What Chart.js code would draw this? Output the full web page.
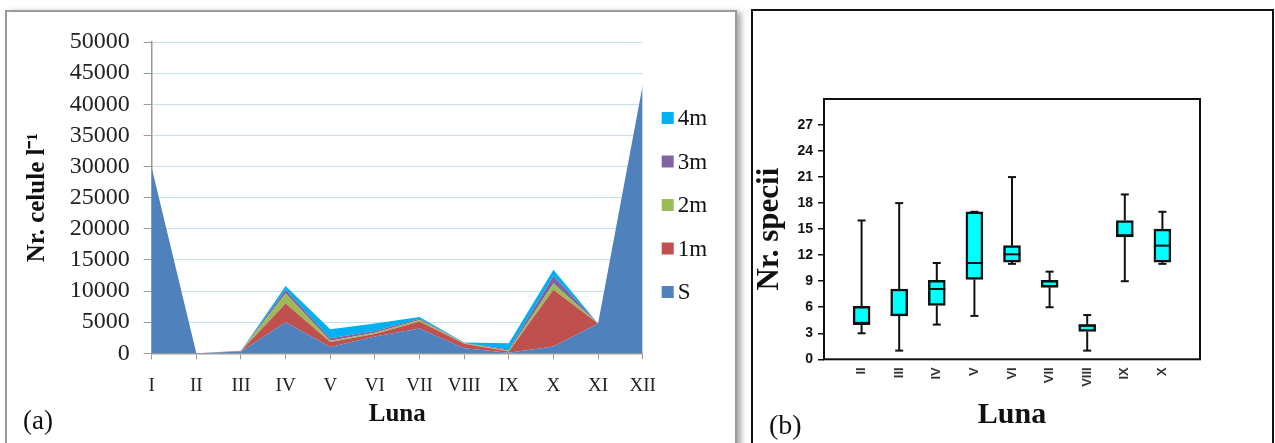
<!DOCTYPE html>
<html>
<head>
<meta charset="utf-8">
<script src="https://cdn.jsdelivr.net/npm/chart.js@4.4.1/dist/chart.umd.min.js"></script>
<style>
  body { margin: 0; background: #fff; width: 1275px; height: 443px; overflow: hidden; position: relative; }
  .panel { position: absolute; box-sizing: border-box; }
  #frameA { left: 5px; top: 10px; width: 732px; height: 450px; border: 2px solid #9a9a9a; box-shadow: 4px 2px 6px rgba(0,0,0,0.35); }
  #frameB { left: 751px; top: 9px; width: 523px; height: 450px; border: 2px solid #111; }
  .wrap { position: absolute; top: 0; height: 443px; }
  #wrapA { left: 0; width: 740px; }
  #wrapB { left: 753px; width: 522px; }
  .tag { position: absolute; font-family: 'Liberation Serif', serif; color: #111; }
</style>
</head>
<body>
<div class="panel" id="frameA"></div>
<div class="panel" id="frameB"></div>
<div class="wrap" id="wrapA"><canvas id="chartA"></canvas></div>
<div class="wrap" id="wrapB"><canvas id="chartB"></canvas></div>
<div class="tag" style="left:23px; top:407px; font-size:27px; line-height:27px;">(a)</div>
<div class="tag" style="left:769px; top:411px; font-size:28px; line-height:28px;">(b)</div>
<script>
// (a) stacked area: cells per litre by month and depth
const months = ['I', 'II', 'III', 'IV', 'V', 'VI', 'VII', 'VIII', 'IX', 'X', 'XI', 'XII']
const depthS = [29800, 0, 300, 5000, 1000, 2700, 4000, 800, 100, 1100, 4800, 43100]
const depth1m = [0, 0, 50, 3000, 800, 400, 1100, 750, 200, 9100, 0, 0]
const depth2m = [0, 0, 30, 1600, 200, 200, 250, 50, 100, 1000, 0, 0]
const depth3m = [0, 0, 20, 600, 400, 300, 200, 50, 200, 1200, 0, 0]
const depth4m = [0, 0, 20, 600, 1450, 1200, 300, 100, 1000, 1000, 0, 0]

// (b) box plot: number of species by month
const boxMonths = ['', 'II', 'III', 'IV', 'V', 'VI', 'VII', 'VIII', 'IX', 'X', '']
const boxMin = [null, 3, 1, 4, 5, 11, 6, 1, 9, 11, null]
const boxQ1 = [null, 4, 5, 6.2, 9.2, 11.2, 8.3, 3.2, 14.1, 11.2, null]
const boxMedian = [null, 4.2, 5.1, 8.1, 11.1, 12.1, 8.4, 3.9, 14.3, 13.1, null]
const boxQ3 = [null, 6.1, 8.1, 9.1, 17, 13.1, 9.1, 4.0, 16, 15, null]
const boxMax = [null, 16, 18, 11.1, 17, 21, 10.1, 5.1, 19, 17, null]

const serif = "'Liberation Serif', 'Times New Roman', serif"
const sans = "'Liberation Sans', Arial, sans-serif"

const areaSet = (label, data, color, fill) => ({
  label, data, fill, backgroundColor: color, borderColor: color,
  borderWidth: 0, pointRadius: 0, tension: 0
})

// legend drawn to the right of the plot, top item = last dataset
const sideLegend = {
  id: 'sideLegend',
  afterDraw (chart) {
    const { ctx, chartArea } = chart
    const sets = chart.data.datasets.slice().reverse()
    ctx.save()
    ctx.font = '23px ' + serif
    ctx.textBaseline = 'middle'
    sets.forEach((ds, i) => {
      const y = 118 + i * 43.5
      const x = chartArea.right + 19
      ctx.fillStyle = ds.backgroundColor
      ctx.fillRect(x, y - 6, 12, 12)
      ctx.fillStyle = '#111'
      ctx.fillText(ds.label, x + 16, y + 1)
    })
    ctx.restore()
  }
}

new Chart(document.getElementById('chartA'), {
  type: 'line',
  data: {
    labels: months,
    datasets: [
      areaSet('S', depthS, '#4f81bd', 'origin'),
      areaSet('1m', depth1m, '#c0504d', '-1'),
      areaSet('2m', depth2m, '#9bbb59', '-1'),
      areaSet('3m', depth3m, '#8064a2', '-1'),
      areaSet('4m', depth4m, '#00b0f0', '-1')
    ]
  },
  options: {
    responsive: true,
    maintainAspectRatio: false,
    animation: false,
    layout: { padding: { left: 0, top: 42, right: 97.3, bottom: 0 } },
    plugins: { legend: { display: false }, tooltip: { enabled: false } },
    scales: {
      x: {
        offset: false,
        afterFit: (s) => { s.height = 89.7 },
        grid: { drawOnChartArea: false, tickLength: 6, tickColor: '#999' },
        border: { color: '#999', width: 1.5 },
        ticks: { color: '#222', padding: 15, font: { family: serif, size: 19 }, maxRotation: 0, autoSkip: false },
        title: { display: true, text: 'Luna', color: '#111', font: { family: serif, size: 25, weight: 'bold', lineHeight: 1 }, padding: { top: 0, bottom: 15.5 } }
      },
      y: {
        stacked: true,
        min: 0,
        max: 50000,
        afterFit: (s) => { s.width = 151.7 },
        grid: { color: '#bfe2ec', tickColor: '#999', tickLength: 8 },
        border: { color: '#999', width: 1.5 },
        ticks: {
          stepSize: 5000,
          autoSkip: false,
          color: '#222',
          padding: 14,
          font: { family: serif, size: 24, lineHeight: 1 },
          callback: (v) => String(v)
        },
        title: { display: true, text: 'Nr. celule l⁻¹', color: '#111', font: { family: serif, size: 25, weight: 'bold', lineHeight: 1 }, padding: { top: 25.5, bottom: 0 } }
      }
    }
  },
  plugins: [sideLegend]
})

// whiskers, caps, median and plot frame for the box plot
const boxExtras = {
  id: 'boxExtras',
  afterDatasetsDraw (chart) {
    const { ctx, chartArea, scales: { x, y } } = chart
    ctx.save()
    ctx.strokeStyle = '#111'
    ctx.lineWidth = 2
    boxMin.forEach((lo, i) => {
      if (lo === null) return
      const px = x.getPixelForValue(i)
      const line = (x1, y1, x2, y2) => { ctx.beginPath(); ctx.moveTo(x1, y1); ctx.lineTo(x2, y2); ctx.stroke() }
      line(px, y.getPixelForValue(lo), px, y.getPixelForValue(boxQ1[i]))
      line(px, y.getPixelForValue(boxQ3[i]), px, y.getPixelForValue(boxMax[i]))
      line(px - 4, y.getPixelForValue(lo), px + 4, y.getPixelForValue(lo))
      line(px - 4, y.getPixelForValue(boxMax[i]), px + 4, y.getPixelForValue(boxMax[i]))
      line(px - 8.5, y.getPixelForValue(boxMedian[i]), px + 8.5, y.getPixelForValue(boxMedian[i]))
    })
    ctx.strokeRect(chartArea.left, chartArea.top, chartArea.right - chartArea.left, chartArea.bottom - chartArea.top)
    ctx.restore()
  }
}

new Chart(document.getElementById('chartB'), {
  type: 'bar',
  data: {
    labels: boxMonths,
    datasets: [{
      data: boxQ1.map((q, i) => (q === null ? null : [q, boxQ3[i]])),
      backgroundColor: '#00ffff',
      borderColor: '#111',
      borderWidth: 2.5,
      borderSkipped: false,
      barThickness: 17
    }]
  },
  options: {
    responsive: true,
    maintainAspectRatio: false,
    animation: false,
    layout: { padding: { left: 0, top: 99, right: 75, bottom: 0 } },
    plugins: { legend: { display: false }, tooltip: { enabled: false } },
    scales: {
      x: {
        offset: false,
        afterFit: (s) => { s.height = 83.7 },
        grid: { display: false },
        border: { display: false },
        ticks: { color: '#333', padding: 0, minRotation: 90, maxRotation: 90, autoSkip: false, font: { family: sans, size: 13, weight: 'bold' } },
        title: { display: true, text: 'Luna', color: '#111', font: { family: serif, size: 30, weight: 'bold', lineHeight: 1 }, padding: { top: 0, bottom: 13 } }
      },
      y: {
        min: 0,
        max: 30,
        afterFit: (s) => { s.width = 71 },
        afterBuildTicks: (s) => { s.ticks = s.ticks.filter(t => t.value !== 30) },
        grid: { drawOnChartArea: false, tickLength: 6, tickColor: '#111', lineWidth: 1.5 },
        border: { display: false },
        ticks: { stepSize: 3, autoSkip: false, color: '#111', padding: 5, font: { family: sans, size: 14, weight: 'bold' } },
        title: { display: true, text: 'Nr. specii', color: '#111', font: { family: serif, size: 31, weight: 'bold', lineHeight: 1 }, padding: { top: 1.5, bottom: 0 } }
      }
    }
  },
  plugins: [boxExtras]
})
</script>
</body>
</html>
